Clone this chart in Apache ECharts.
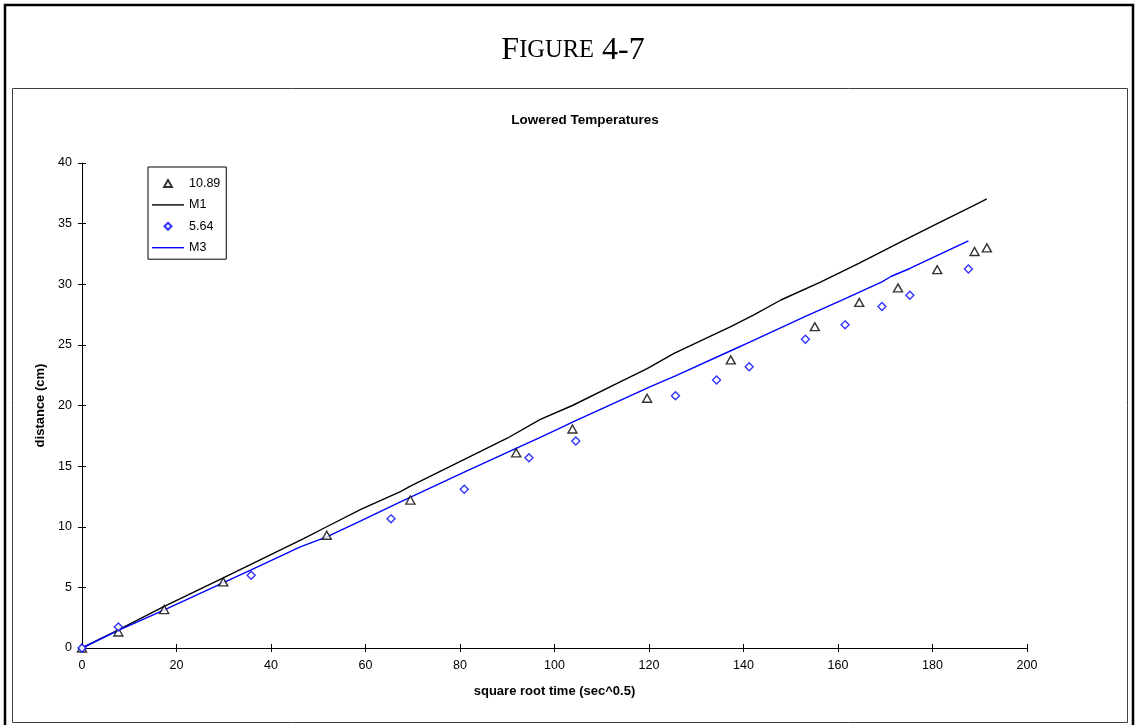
<!DOCTYPE html>
<html>
<head>
<meta charset="utf-8">
<script src="https://cdn.jsdelivr.net/npm/echarts@6/dist/echarts.min.js"></script>
<style>
html,body{margin:0;padding:0;background:#fff;}
#chart{width:1136px;height:725px;}
</style>
</head>
<body>
<div id="chart"></div>
<script>
// ---- data ----
var figureTitle = 'FIGURE 4-7';
var chartTitle = 'Lowered Temperatures';
var xName = 'square root time (sec^0.5)';
var yName = 'distance (cm)';
var xTicks = [0, 20, 40, 60, 80, 100, 120, 140, 160, 180, 200];
var yTicks = [0, 5, 10, 15, 20, 25, 30, 35, 40];

// series "10.89" (triangles)
var s1089X = [0, 7.7, 17.4, 29.9, 51.8, 69.5, 91.9, 103.8, 119.6, 137.3, 155.1, 164.5, 172.7, 181.0, 188.9, 191.5];
var s1089Y = [0, 1.32, 3.17, 5.45, 9.3, 12.2, 16.1, 18.06, 20.6, 23.76, 26.5, 28.5, 29.7, 31.2, 32.7, 33.0];

// model M1 (black line)
var m1X = [0, 7.7, 17.4, 29.9, 46.9, 51.8, 59.0, 67.4, 69.5, 90, 97, 103.8, 114, 119.6, 125.3, 137.3, 142.2, 147.9, 156.4, 164.5, 173.3, 181, 188.8, 191.5];
var m1Y = [0, 1.5, 3.44, 5.78, 9.03, 10.0, 11.43, 12.9, 13.35, 17.3, 18.86, 20.0, 21.97, 23.05, 24.3, 26.5, 27.47, 28.7, 30.2, 31.75, 33.5, 35.0, 36.5, 37.05];

// series "5.64" (diamonds)
var s564X = [0, 7.7, 35.8, 65.4, 80.9, 94.6, 104.5, 125.6, 134.3, 141.2, 153.1, 161.5, 169.3, 175.2, 187.6];
var s564Y = [0, 1.73, 6.0, 10.65, 13.1, 15.7, 17.07, 20.8, 22.1, 23.2, 25.47, 26.65, 28.16, 29.1, 31.25];

// model M3 (blue line)
var m3X = [0, 7.7, 17.2, 35.8, 46.2, 51.8, 59, 67.4, 80.9, 91.4, 97, 104.5, 120.3, 125.6, 138, 141.2, 153.1, 160.6, 169.3, 171.2, 175.2, 187.6];
var m3Y = [0, 1.45, 3.11, 6.45, 8.34, 9.17, 10.49, 12.06, 14.5, 16.38, 17.37, 18.75, 21.55, 22.45, 24.64, 25.2, 27.35, 28.65, 30.2, 30.64, 31.3, 33.58];

function pairs(xs, ys) { return xs.map(function (x, i) { return [x, ys[i]]; }); }

var chart = echarts.init(document.getElementById('chart'), null, {renderer: 'canvas'});
var SANS = '"Liberation Sans", Arial, sans-serif';
var SERIF = '"Liberation Serif", "Times New Roman", serif';

var xMin = xTicks[0], xMax = xTicks[xTicks.length - 1], xInt = xTicks[1] - xTicks[0];
var yMin = yTicks[0], yMax = yTicks[yTicks.length - 1], yInt = yTicks[1] - yTicks[0];

var ICON_TRI = 'path://M0,8L4.5,0L9,8Z';
var ICON_DIA = 'path://M4,0L8,4L4,8L0,4Z';
var ICON_LINE = 'path://M0,0H32V1.4H0Z';

function baseX(extra) {
  return Object.assign({
    type: 'value', min: xMin, max: xMax, interval: xInt,
    splitLine: {show: false},
    axisLine: {show: true, onZero: false, lineStyle: {color: '#000', width: 1}},
    axisTick: {show: true, inside: false, length: 4, lineStyle: {color: '#000', width: 1}},
    axisLabel: {show: true, color: '#000', fontFamily: SANS, fontSize: 12.5, margin: 11}
  }, extra);
}
function baseY(extra) {
  return Object.assign({
    type: 'value', min: yMin, max: yMax, interval: yInt,
    splitLine: {show: false},
    axisLine: {show: true, onZero: false, lineStyle: {color: '#000', width: 1}},
    axisTick: {show: true, inside: false, length: 4, lineStyle: {color: '#000', width: 1}},
    axisLabel: {show: true, color: '#000', fontFamily: SANS, fontSize: 12.5, margin: 10}
  }, extra);
}

var option = {
  backgroundColor: '#fff',
  animation: false,
  title: [
    {
      text: '{a|F}{b|IGURE}{a| 4-7}',
      left: 568, top: 30, textAlign: 'center',
      textStyle: {
        fontWeight: 'normal',
        rich: {
          a: {fontFamily: SERIF, fontSize: 32, fontWeight: 'normal', color: '#000'},
          b: {fontFamily: SERIF, fontSize: 24.5, fontWeight: 'normal', color: '#000'}
        }
      }
    },
    {
      text: chartTitle,
      left: 580, top: 108, textAlign: 'center',
      textStyle: {fontFamily: SANS, fontSize: 13.5, fontWeight: 'bold', color: '#000'}
    }
  ],
  graphic: [
    {type: 'rect', shape: {x: 5, y: 5, width: 1128, height: 800}, style: {fill: 'none', stroke: '#000', lineWidth: 2.5}, silent: true, z: -10},
    {type: 'rect', shape: {x: 12.5, y: 88.5, width: 1115, height: 634}, style: {fill: 'none', stroke: '#404040', lineWidth: 1}, silent: true, z: -10}
  ],
  legend: {
    orient: 'vertical',
    left: 148, top: 167,
    width: 77,
    padding: [10, 6, 5, 4],
    itemWidth: 32, itemHeight: 7, itemGap: 8.4,
    borderColor: '#000', borderWidth: 1,
    backgroundColor: '#fff',
    symbolKeepAspect: true,
    textStyle: {fontFamily: SANS, fontSize: 12.5, color: '#000'},
    data: [
      {name: '10.89', icon: ICON_TRI},
      {name: 'M1', icon: ICON_LINE},
      {name: '5.64', icon: ICON_DIA},
      {name: 'M3', icon: ICON_LINE}
    ]
  },
  grid: {left: 82, right: 109, top: 163, bottom: 77, containLabel: false},
  xAxis: [
    baseX({name: xName, nameLocation: 'middle', nameGap: 37,
      nameTextStyle: {fontFamily: SANS, fontSize: 13, fontWeight: 'bold', color: '#000'}}),
    baseX({position: 'bottom', axisLine: {show: false}, axisLabel: {show: false},
      axisTick: {show: true, inside: true, length: 4, lineStyle: {color: '#000', width: 1}}})
  ],
  yAxis: [
    baseY({name: yName, nameLocation: 'middle', nameGap: 31, nameRotate: 90,
      nameTextStyle: {fontFamily: SANS, fontSize: 13, fontWeight: 'bold', color: '#000'}}),
    baseY({position: 'left', axisLine: {show: false}, axisLabel: {show: false},
      axisTick: {show: true, inside: true, length: 4, lineStyle: {color: '#000', width: 1}}})
  ],
  series: [
    {
      name: 'M1', type: 'line', xAxisIndex: 0, yAxisIndex: 0,
      data: pairs(m1X, m1Y), symbol: 'none', showSymbol: false,
      lineStyle: {color: '#000', width: 1.4}, itemStyle: {color: '#000'}, z: 2
    },
    {
      name: 'M3', type: 'line', xAxisIndex: 0, yAxisIndex: 0,
      data: pairs(m3X, m3Y), symbol: 'none', showSymbol: false,
      lineStyle: {color: '#0000ff', width: 1.4}, itemStyle: {color: '#0000ff'}, z: 2
    },
    {
      name: '10.89', type: 'scatter', xAxisIndex: 0, yAxisIndex: 0,
      data: pairs(s1089X, s1089Y), symbol: 'triangle', symbolSize: [9, 8],
      itemStyle: {color: '#fff', borderColor: '#000', borderWidth: 1.4}, z: 3
    },
    {
      name: '5.64', type: 'scatter', xAxisIndex: 0, yAxisIndex: 0,
      data: pairs(s564X, s564Y), symbol: 'diamond', symbolSize: [8, 8],
      itemStyle: {color: '#fff', borderColor: '#0000ff', borderWidth: 1.4}, z: 3
    }
  ]
};
chart.setOption(option);
</script>
</body>
</html>
